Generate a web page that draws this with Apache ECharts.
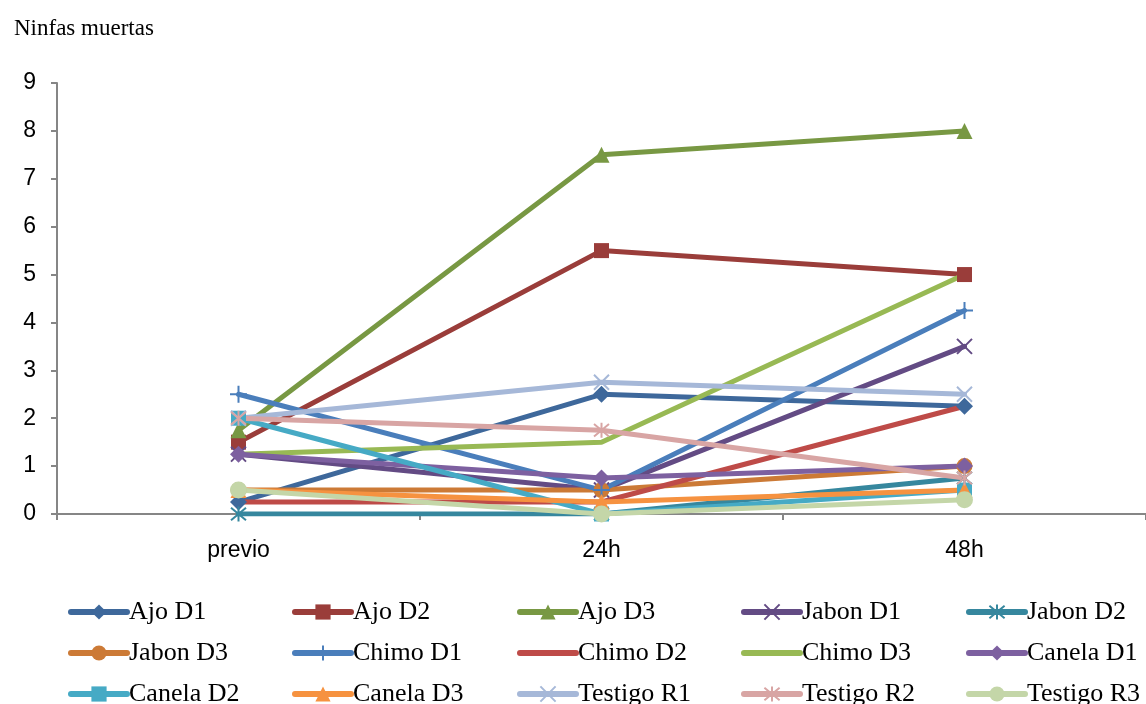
<!DOCTYPE html>
<html>
<head>
<meta charset="utf-8">
<script src="https://cdn.jsdelivr.net/npm/echarts@6/dist/echarts.min.js"></script>
<style>html,body{margin:0;padding:0;background:#fff;}#c{width:1146px;height:704px;}</style>
</head>
<body>
<div id="c"></div>
<script>
var categories = ['previo', '24h', '48h'];
var yTicks = [0, 1, 2, 3, 4, 5, 6, 7, 8, 9];
var seriesNames = ['Ajo D1','Ajo D2','Ajo D3','Jabon D1','Jabon D2','Jabon D3','Chimo D1','Chimo D2','Chimo D3','Canela D1','Canela D2','Canela D3','Testigo R1','Testigo R2','Testigo R3'];
var ajoD1 = [0.25, 2.5, 2.25];
var ajoD2 = [1.5, 5.5, 5];
var ajoD3 = [1.75, 7.5, 8];
var jabonD1 = [1.25, 0.5, 3.5];
var jabonD2 = [0, 0, 0.75];
var jabonD3 = [0.5, 0.5, 1];
var chimoD1 = [2.5, 0.5, 4.25];
var chimoD2 = [0.25, 0.25, 2.25];
var chimoD3 = [1.25, 1.5, 5];
var canelaD1 = [1.25, 0.75, 1];
var canelaD2 = [2, 0, 0.5];
var canelaD3 = [0.5, 0.25, 0.5];
var testigoR1 = [2, 2.75, 2.5];
var testigoR2 = [2, 1.75, 0.75];
var testigoR3 = [0.5, 0, 0.3];
var seriesValues = [ajoD1, ajoD2, ajoD3, jabonD1, jabonD2, jabonD3, chimoD1, chimoD2, chimoD3, canelaD1, canelaD2, canelaD3, testigoR1, testigoR2, testigoR3];

var colors = ['#3E689B','#9A3D3A','#789843','#634B84','#36879E','#CC7A36','#4A7EBB','#BE4B48','#98B954','#7D60A0','#46AAC5','#F69240','#A6B8D8','#D8A5A4','#C4D6A8'];
var X = 'path://M0,0L10,10M10,0L0,10';
var AST = 'path://M0,0L10,10M10,0L0,10M5,-1L5,11';
var PLUS = 'path://M5,0L5,10M0,5L10,5';
var symbols = ['diamond','rect','triangle',X,AST,'circle',PLUS,'none','none','diamond','rect','triangle',X,AST,'circle'];
var sizes = [17,15,16,15,15,16,17,0,0,17,15,16,15,15,17];

var series = seriesNames.map(function(n, i){
  var s = symbols[i];
  var stroked = (s === X || s === AST || s === PLUS);
  return {
    name: n, type: 'line', data: seriesValues[i],
    symbol: s, symbolSize: sizes[i], showSymbol: s !== 'none',
    lineStyle: {color: colors[i], width: 5, cap: 'round'},
    itemStyle: {color: colors[i], borderColor: colors[i], borderWidth: stroked ? 2 : 0},
    emphasis: {disabled: true}, animation: false
  };
});

var legendLefts = [68, 292, 517, 741, 966];
var legends = legendLefts.map(function(l, c){
  return {
    orient: 'vertical', left: l, top: 599, width: 200, height: 150, itemGap: 15, padding: 0,
    itemWidth: 56, itemHeight: 19,
    lineStyle: {width: 6, cap: 'round'},
    data: [c, c + 5, c + 10].map(function(k){
      return symbols[k] === 'none' ? {name: seriesNames[k], itemStyle: {opacity: 0}} : {name: seriesNames[k]};
    }),
    textStyle: {fontFamily: 'Liberation Serif', fontSize: 26, color: '#000', padding: [0,0,0,-3]},
    selectedMode: false
  };
});

var chart = echarts.init(document.getElementById('c'));
chart.setOption({
  animation: false,
  title: {text: 'Ninfas muertas', left: 9, top: 12, textStyle: {fontFamily: 'Liberation Serif', fontSize: 23, fontWeight: 'normal', color: '#000'}},
  legend: legends,
  grid: {left: 57, right: 0, top: 83, height: 431},
  xAxis: {
    type: 'category', data: categories, boundaryGap: true,
    axisLine: {lineStyle: {color: '#868686', width: 2}},
    axisTick: {show: true, length: 6, lineStyle: {color: '#868686', width: 2}},
    axisLabel: {fontFamily: 'Liberation Sans', fontSize: 23, color: '#000', margin: 25}
  },
  yAxis: {
    type: 'value', min: yTicks[0], max: yTicks[yTicks.length-1], interval: 1,
    axisLine: {show: true, lineStyle: {color: '#868686', width: 2}},
    axisTick: {show: true, length: 6, lineStyle: {color: '#868686', width: 2}},
    splitLine: {show: false},
    axisLabel: {fontFamily: 'Liberation Sans', fontSize: 23, color: '#000', margin: 21}
  },
  series: series
});
</script>
</body>
</html>
